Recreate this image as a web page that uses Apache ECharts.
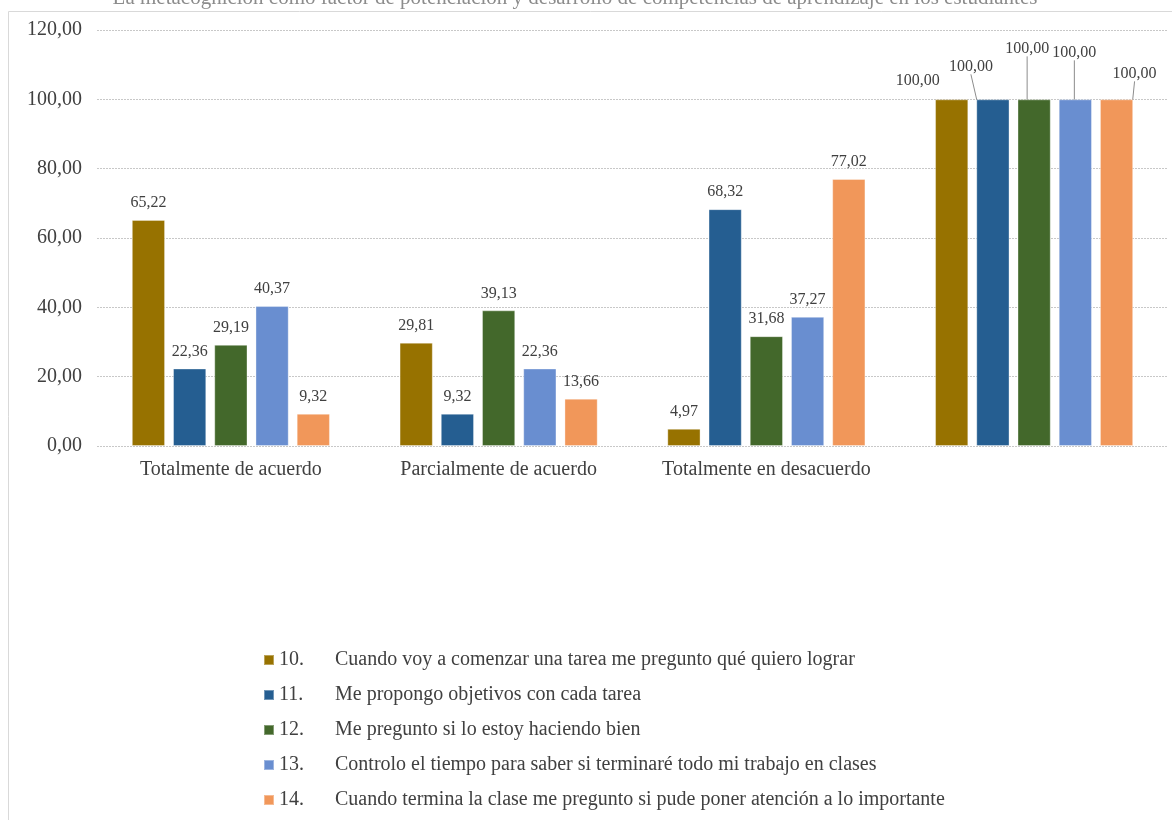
<!DOCTYPE html>
<html>
<head>
<meta charset="utf-8">
<script src="https://cdn.jsdelivr.net/npm/echarts@6/dist/echarts.min.js"></script>
<style>
  html, body { margin: 0; padding: 0; background: #fff; }
  #chart { width: 1172px; height: 820px; }
</style>
</head>
<body>
<div id="chart"></div>
<script>
// Response categories (the fourth group is the 100 % total)
const categories = ['Totalmente de acuerdo', 'Parcialmente de acuerdo', 'Totalmente en desacuerdo', ''];

// Item numbers and statements
const itemNumbers = ['10.', '11.', '12.', '13.', '14.'];
const itemTexts = [
  'Cuando voy a comenzar una tarea me pregunto qué quiero lograr',
  'Me propongo objetivos con cada tarea',
  'Me pregunto si lo estoy haciendo bien',
  'Controlo el tiempo para saber si terminaré todo mi trabajo en clases',
  'Cuando termina la clase me pregunto si pude poner atención a lo importante'
];

// Percentages per item
const item10 = [65.22, 29.81, 4.97, 100];
const item11 = [22.36, 9.32, 68.32, 100];
const item12 = [29.19, 39.13, 31.68, 100];
const item13 = [40.37, 22.36, 37.27, 100];
const item14 = [9.32, 13.66, 77.02, 100];

// Y axis ticks
const yMin = 0, yMax = 120, yStep = 20;

const seriesValues = [item10, item11, item12, item13, item14];
const colors = ['#977200', '#255e91', '#43682b', '#698ed0', '#f1975a'];

// Offsets that lift the labels of the total group apart
const totalLabelShift = [[-34, -2], [-22, -16], [-7, -34], [-1, -30], [18, -9]];
const TOTAL_INDEX = 3;

const font = '"Liberation Serif", "Times New Roman", serif';
const textColor = '#404040';
const fmt = v => v.toFixed(2).replace('.', ',');

const chart = echarts.init(document.getElementById('chart'));

const series = seriesValues.map((vals, i) => ({
  name: itemNumbers[i] + ' ' + itemTexts[i],
  type: 'bar',
  // only the total group gets leader lines
  data: vals.map((v, k) => ({
    value: v,
    labelLine: { show: k === TOTAL_INDEX && i > 0 }
  })),
  barGap: '24%',
  barCategoryGap: '26%',
  itemStyle: { color: colors[i], borderColor: 'rgba(255,255,255,0.35)', borderWidth: 1 },
  label: {
    show: true,
    position: 'top',
    distance: 9,
    formatter: p => fmt(p.value),
    fontFamily: font,
    fontSize: 16,
    color: textColor
  },
  labelLine: {
    show: false,
    lineStyle: { color: '#8c8c8c', width: 1 }
  },
  labelLayout: p => (p.dataIndex === TOTAL_INDEX
    ? { dx: totalLabelShift[i][0], dy: totalLabelShift[i][1] }
    : {})
}));

chart.setOption({
  animation: false,
  color: colors,
  graphic: [
    {
      type: 'rect',
      shape: { x: 8.5, y: 11.5, width: 1200, height: 900 },
      style: { fill: 'none', stroke: '#d9d9d9', lineWidth: 1 },
      silent: true
    },
    {
      type: 'text',
      x: 575,
      y: 9,
      style: {
        text: 'La metacognición como factor de potenciación y desarrollo de competencias de aprendizaje en los estudiantes',
        font: '21px ' + font,
        fill: '#8c8c8c',
        align: 'center',
        verticalAlign: 'bottom'
      },
      silent: true
    }
  ],
  grid: { left: 97, right: 4, top: 30, bottom: 374, containLabel: false },
  xAxis: {
    type: 'category',
    data: categories,
    axisLine: { show: false },
    axisTick: { show: false },
    axisLabel: { interval: 0, fontFamily: font, fontSize: 20, color: textColor, margin: 14 }
  },
  yAxis: {
    type: 'value',
    min: yMin,
    max: yMax,
    interval: yStep,
    axisLine: { show: false },
    axisTick: { show: false },
    axisLabel: { formatter: v => fmt(v), fontFamily: font, fontSize: 20, color: textColor, margin: 15 },
    splitLine: { lineStyle: { color: '#c8c8c8', type: [2, 1], width: 1 } }
  },
  legend: {
    orient: 'vertical',
    left: 263,
    top: 650,
    padding: 0,
    itemWidth: 10,
    itemHeight: 10,
    itemGap: 15,
    icon: 'rect',
    formatter: name => {
      const i = series.findIndex(s => s.name === name);
      return '{n|' + itemNumbers[i] + '}{t|' + itemTexts[i] + '}';
    },
    textStyle: {
      fontFamily: font,
      fontSize: 20,
      color: textColor,
      rich: {
        n: { width: 56, fontFamily: font, fontSize: 20, color: textColor, height: 20 },
        t: { fontFamily: font, fontSize: 20, color: textColor, height: 20 }
      }
    }
  },
  series: series
});
</script>
</body>
</html>
